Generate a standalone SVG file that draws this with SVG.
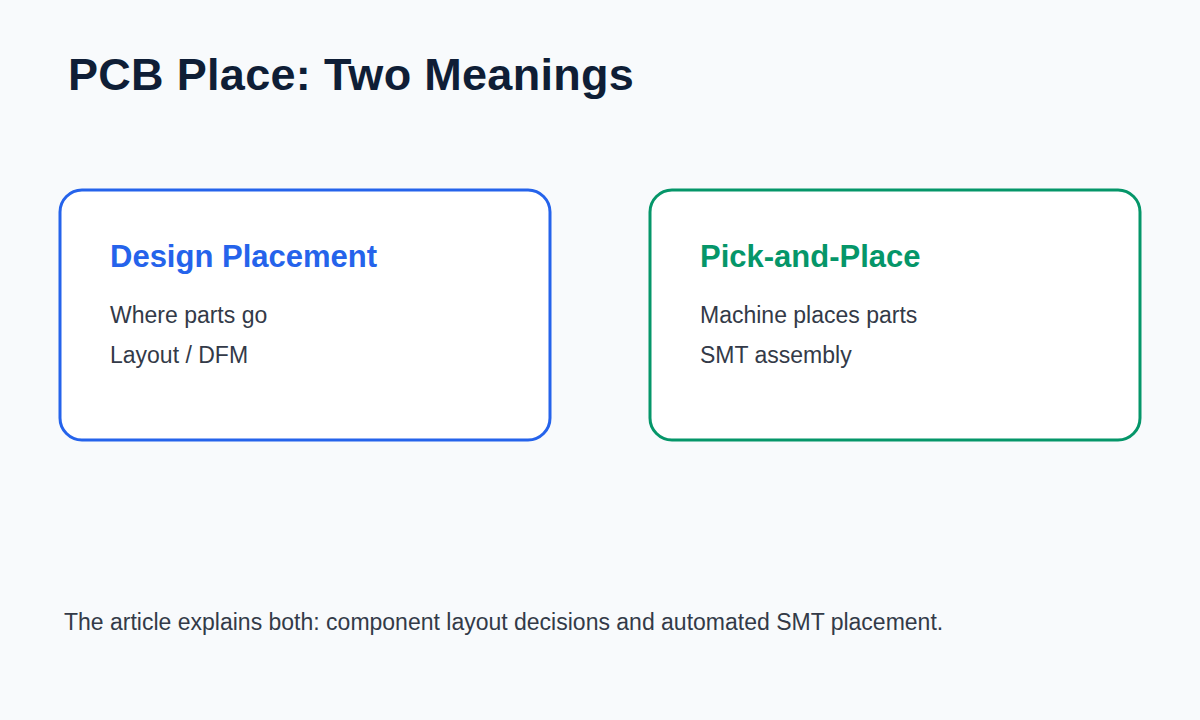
<svg xmlns="http://www.w3.org/2000/svg" width="1200" height="720" viewBox="0 0 1200 720">
<style>
.bg{fill:#f8fafc}
.title{font-family:"Liberation Sans",Arial,sans-serif;font-size:45px;font-weight:bold;fill:#0f1e36;letter-spacing:0.3px}
.card{fill:#ffffff;stroke-width:3}
.h{font-family:"Liberation Sans",Arial,sans-serif;font-size:31px;font-weight:bold}
.b{font-family:"Liberation Sans",Arial,sans-serif;font-size:23px;fill:#333a48}
.foot{font-family:"Liberation Sans",Arial,sans-serif;font-size:23px;fill:#333a48}
</style>
<rect class="bg" x="0" y="0" width="1200" height="720"/>
<text class="title" x="68" y="90">PCB Place: Two Meanings</text>
<g id="design-placement">
<rect class="card" x="60" y="190" width="490" height="250" rx="22" stroke="#2563eb"/>
<text class="h" x="110" y="267" fill="#2563eb">Design Placement</text>
<text class="b" x="110" y="323">Where parts go</text>
<text class="b" x="110" y="363">Layout / DFM</text>
</g>
<g id="pick-and-place">
<rect class="card" x="650" y="190" width="490" height="250" rx="22" stroke="#059669"/>
<text class="h" x="700" y="267" fill="#059669">Pick-and-Place</text>
<text class="b" x="700" y="323">Machine places parts</text>
<text class="b" x="700" y="363">SMT assembly</text>
</g>
<g id="connectors"/>
<text class="foot" x="64" y="630">The article explains both: component layout decisions and automated SMT placement.</text>
</svg>
